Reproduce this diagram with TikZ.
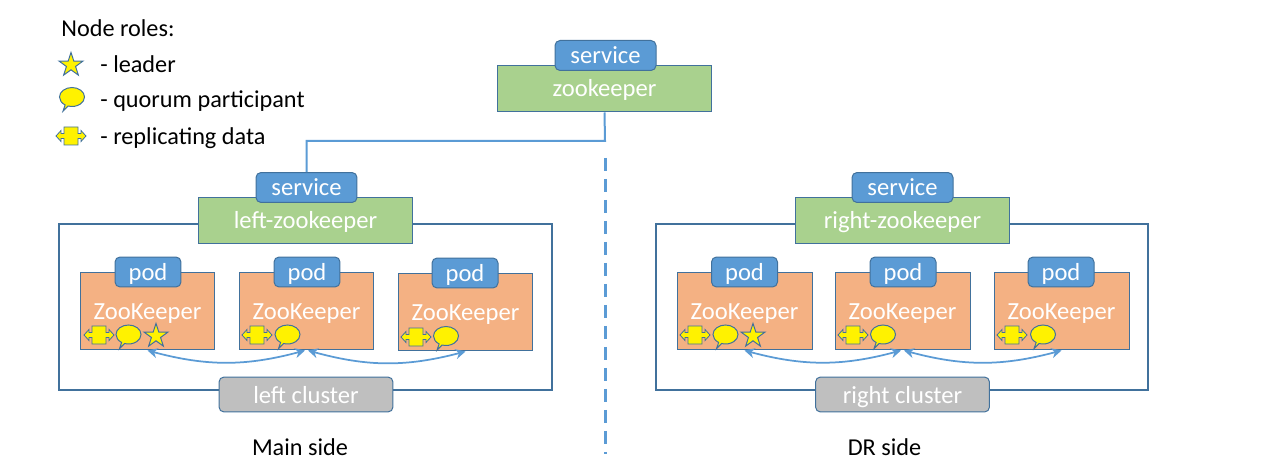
\documentclass[tikz,border=0pt]{standalone}
\usepackage{fontspec}
\setmainfont{Carlito}
\usetikzlibrary{arrows.meta,shapes.geometric,shapes.callouts}
\definecolor{tabblue}{HTML}{5B9BD5}
\definecolor{edgeblue}{HTML}{41719C}
\definecolor{svcgreen}{HTML}{A9D18E}
\definecolor{podorange}{HTML}{F4B183}
\definecolor{clustergrey}{HTML}{BFBFBF}
\tikzset{
  boxtext/.style = {text = white, font = \fontsize{14}{16}\selectfont, inner sep = 0, text height = 0.39cm, text depth = 0.05cm},
  tab/.style = {boxtext, draw = edgeblue, fill = tabblue, line width = 0.02cm, rounded corners = 0.1cm},
  podtab/.style = {tab, minimum width = 1.32cm, minimum height = 0.6cm},
  svctab/.style = {tab, minimum width = 2.02cm, minimum height = 0.6cm},
  svcbox/.style = {boxtext, draw = edgeblue, fill = svcgreen, line width = 0.02cm, minimum width = 4.3cm, minimum height = 0.94cm},
  podbox/.style = {boxtext, draw = edgeblue, fill = podorange, line width = 0.02cm, minimum width = 2.7cm, minimum height = 1.56cm},
  clusterbox/.style = {draw = edgeblue, line width = 0.04cm, minimum width = 9.86cm, minimum height = 3.32cm, inner sep = 0},
  clustertab/.style = {tab, fill = clustergrey, minimum width = 3.48cm, minimum height = 0.7cm},
  caption/.style = {text = black, font = \fontsize{13.8}{16}\selectfont, inner sep = 0},
  iconstar/.style = {star, star points = 5, star point ratio = 2.6, draw = edgeblue, fill = yellow, line width = 0.02cm, minimum size = 0.5cm, inner sep = 0},
  iconchat/.style = {ellipse callout, callout relative pointer = {(-0.07cm, -0.11cm)}, draw = edgeblue, fill = yellow, line width = 0.02cm, minimum width = 0.5cm, minimum height = 0.38cm, inner sep = 0},
  replica/.pic = {
    \draw[edgeblue, fill = yellow, line width = 0.016cm]
      (-7, -9) -- (7, -9) -- (7, -2.5) -- (10, -2.5) -- (10, -5.5) -- (15, 0)
      -- (10, 5.5) -- (10, 2.5) -- (7, 2.5) -- (7, 9) -- (-7, 9) -- (-7, 2.5)
      -- (-10, 2.5) -- (-10, 5.5) -- (-15, 0) -- (-10, -5.5) -- (-10, -2.5)
      -- (-7, -2.5) -- cycle;
  },
  syncline/.style = {{Stealth[length = 0.2cm, width = 0.2cm]}-{Stealth[length = 0.2cm, width = 0.2cm]}, tabblue, line width = 0.035cm},
  uplink/.style = {tabblue, line width = 0.04cm},
  divider/.style = {tabblue, line width = 0.06cm, dash pattern = on 0.26cm off 0.16cm}
}

\begin{document}
\begin{tikzpicture}[x = 0.02cm, y = -0.02cm]
\useasboundingbox (0, 0) rectangle (1280, 469);

% legend
\node[caption, anchor = base west] (rolesTitle) at (61, 37) {Node roles:};
\node[iconstar] (legendStar) at (71, 65) {};
\node[iconchat] (legendChat) at (72, 97) {};
\pic at (71, 136) {replica};
\node[caption, anchor = base west] (legendLeader) at (100, 73) {- leader};
\node[caption, anchor = base west] (legendQuorum) at (100, 108) {- quorum participant};
\node[caption, anchor = base west] (legendData) at (100, 145) {- replicating data};

% top service
\node[svcbox] (zookeeper) at (604.5, 88.5) {zookeeper};
\node[svctab] (svcTop) at (605.5, 55.5) {service};

% divider
\coordinate (dashTop) at (605, 158);
\coordinate (dashBottom) at (605, 454);
\draw[divider] (dashTop) -- (dashBottom);

% left side
\node[clusterbox] (clusterLeft) at (305.5, 307) {};
\node[svcbox] (zkLeft) at (305.5, 220.5) {left-zookeeper};
\node[svctab] (svcLeft) at (306.5, 187.5) {service};
\coordinate (uplinkBend) at (605, 141);
\draw[uplink] (zookeeper.south) -- (uplinkBend) -| (svcLeft.north);

\node[podbox] (podLeftA) at (147.5, 311) {ZooKeeper};
\node[podbox] (podLeftB) at (306.5, 311) {ZooKeeper};
\node[podbox] (podLeftC) at (465.5, 312) {ZooKeeper};
\node[podtab] (tabLeftA) at (148, 272) {pod};
\node[podtab] (tabLeftB) at (307, 272) {pod};
\node[podtab] (tabLeftC) at (465, 273) {pod};
\pic at (99, 335) {replica};
\node[iconchat] (chatLeftA) at (128.5, 334.5) {};
\node[iconstar] (starLeftA) at (156, 336) {};
\pic at (257, 335) {replica};
\node[iconchat] (chatLeftB) at (287.5, 334.5) {};
\pic at (416, 337) {replica};
\node[iconchat] (chatLeftC) at (446, 336) {};
\draw[syncline] (podLeftA.south) to[bend right = 15] ([xshift = -0.03cm]podLeftB.south);
\draw[syncline] ([xshift = 0.03cm]podLeftB.south) to[bend right = 15] (podLeftC.south);
\node[clustertab] (nameLeft) at (306, 394.5) {left cluster};
\node[caption] (mainSide) at (300, 447) {Main side};

% right side
\node[clusterbox] (clusterRight) at (902, 307) {};
\node[svcbox] (zkRight) at (902.5, 220.5) {right-zookeeper};
\node[svctab] (svcRight) at (902.5, 187.5) {service};

\node[podbox] (podRightA) at (744.5, 311) {ZooKeeper};
\node[podbox] (podRightB) at (902.5, 311) {ZooKeeper};
\node[podbox] (podRightC) at (1061.5, 311) {ZooKeeper};
\node[podtab] (tabRightA) at (744.5, 272) {pod};
\node[podtab] (tabRightB) at (903, 272) {pod};
\node[podtab] (tabRightC) at (1061, 272) {pod};
\pic at (695, 335) {replica};
\node[iconchat] (chatRightA) at (725.5, 334.5) {};
\node[iconstar] (starRightA) at (753, 336) {};
\pic at (853, 335) {replica};
\node[iconchat] (chatRightB) at (883, 334.5) {};
\pic at (1012, 335) {replica};
\node[iconchat] (chatRightC) at (1043, 334.5) {};
\draw[syncline] (podRightA.south) to[bend right = 15] ([xshift = -0.03cm]podRightB.south);
\draw[syncline] ([xshift = 0.03cm]podRightB.south) to[bend right = 15] (podRightC.south);
\node[clustertab] (nameRight) at (902.5, 394.5) {right cluster};
\node[caption] (drSide) at (884.5, 447) {DR side};
\end{tikzpicture}
\end{document}
